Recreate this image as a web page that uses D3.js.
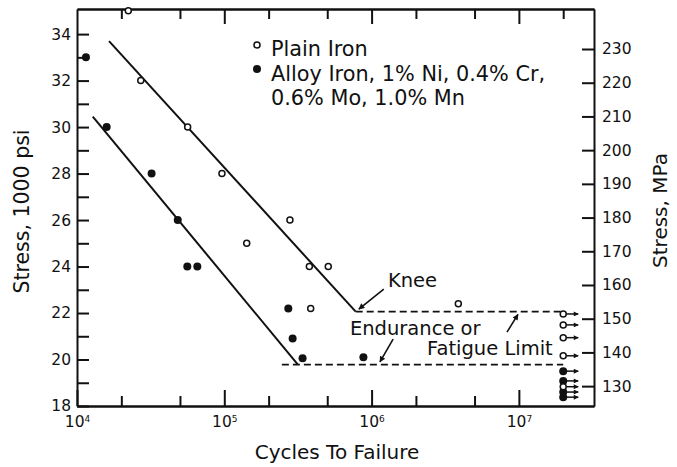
<!DOCTYPE html>
<html>
<head>
<meta charset="utf-8">
<script src="https://cdn.jsdelivr.net/npm/d3@7"></script>
<style>
  body { margin: 0; background: #fff; }
  svg { display: block; font-family: "DejaVu Sans", sans-serif; }
  .axis path, .axis line { stroke: #111; stroke-width: 2; }
  .axis text { font-size: 15.5px; fill: #111; font-family: "DejaVu Sans", sans-serif; }
</style>
</head>
<body>
<svg id="chart" width="677" height="467"></svg>
<script>
// Plain iron test points (open circles)
const plainCycles = [2.23e4, 2.71e4, 5.64e4, 9.64e4, 1.42e5, 2.79e5, 3.78e5, 3.86e5, 5.08e5, 3.88e6];
const plainStress = [35, 32, 30, 28, 25, 26, 24, 22.2, 24, 22.4];
// Alloy iron test points (filled circles)
const alloyCycles = [1.15e4, 1.59e4, 3.21e4, 4.83e4, 5.61e4, 6.56e4, 2.72e5, 2.91e5, 3.40e5, 8.8e5];
const alloyStress = [33, 30, 28, 26, 24, 24, 22.2, 20.9, 20.05, 20.1];
// run-outs (no failure) at 2e7 cycles
const runoutCycles = 2e7;
const plainRunout = [21.96, 21.49, 20.94, 20.16, 18.83];
const alloyRunout = [19.5, 19.08, 18.6, 18.38];
// fitted S-N lines: [cycles, stress]
const plainFit = [[1.65e4, 33.7], [7.8e5, 22.06]];
const plainLimit = [[7.8e5, 22.06], [2e7, 22.06]];
const alloyFit = [[1.28e4, 30.45], [3.16e5, 19.78]];
const alloyLimit = [[2.46e5, 19.78], [2e7, 19.78]];
// axis ticks
const psiTicks = d3.range(18, 35);
const mpaTicks = d3.range(130, 231, 10);
const decadeTicks = [1e4, 1e5, 1e6, 1e7];
const minorBottom = [2e4, 5e4, 2e5, 5e5, 2e6, 5e6];
const minorTop = [2e4, 5e4, 2e5, 5e5, 2e6, 5e6, 2e7];
const legendLines = ["Plain Iron", "Alloy Iron, 1% Ni, 0.4% Cr,", "0.6% Mo, 1.0% Mn"];
// annotations: text anchor + arrow [from, to] in data units
const notes = [
  {text: "Knee", at: [1.29e6, 23.1]},
  {text: "Endurance or", at: [7.13e5, 21.05]},
  {text: "Fatigue Limit", at: [2.38e6, 20.19]}
];
const arrows = [
  [[1.21e6, 23.03], [8.2e5, 22.17]],
  [[1.40e6, 20.88], [1.14e6, 19.9]],
  [[8.3e6, 21.18], [9.86e6, 21.94]]
];

const PSI_TO_MPA = 6.894757;
const svg = d3.select("#chart");
const pLeft = 77, pRight = 594, pTop = 9, pBottom = 406;

const x = d3.scaleLog().domain([1e4, Math.pow(10, 7.51)]).range([pLeft, pRight]);
const y = d3.scaleLinear().domain([18, 35.08]).range([pBottom, pTop]);
const yMpa = d3.scaleLinear().domain([18 * PSI_TO_MPA, 35.08 * PSI_TO_MPA]).range([pBottom, pTop]);

// marker for arrowheads
const defs = svg.append("defs");
defs.append("marker")
  .attr("id", "head")
  .attr("viewBox", "0 0 10 10")
  .attr("refX", 9).attr("refY", 5)
  .attr("markerWidth", 10).attr("markerHeight", 6)
  .attr("markerUnits", "userSpaceOnUse")
  .attr("orient", "auto")
  .append("path").attr("d", "M0,0 L10,5 L0,10 Z").attr("fill", "#111");
defs.append("marker")
  .attr("id", "small")
  .attr("viewBox", "0 0 10 10")
  .attr("refX", 9).attr("refY", 5)
  .attr("markerWidth", 7).attr("markerHeight", 5)
  .attr("markerUnits", "userSpaceOnUse")
  .attr("orient", "auto")
  .append("path").attr("d", "M0,0 L10,5 L0,10 Z").attr("fill", "#111");

// left axis (1000 psi)
svg.append("g").attr("class", "axis")
  .attr("transform", `translate(${pLeft},0)`)
  .call(d3.axisLeft(y).tickValues(psiTicks).tickSize(-12).tickSizeOuter(0).tickPadding(6)
    .tickFormat(d => d % 2 === 0 ? d : ""));

// right axis (MPa)
svg.append("g").attr("class", "axis")
  .attr("transform", `translate(${pRight},0)`)
  .call(d3.axisRight(yMpa).tickValues(mpaTicks).tickSize(-12).tickSizeOuter(0).tickPadding(8));

// bottom axis
const bAxis = svg.append("g").attr("class", "axis")
  .attr("transform", `translate(0,${pBottom})`)
  .call(d3.axisBottom(x).tickValues(decadeTicks).tickSize(-16).tickSizeOuter(0).tickPadding(10)
    .tickFormat(d => "10"));
bAxis.selectAll(".tick text").each(function(d) {
  d3.select(this).append("tspan")
    .attr("font-size", "9px").attr("dy", "-0.6em")
    .text(Math.round(Math.log10(d)));
});
svg.append("g").attr("class", "axis")
  .attr("transform", `translate(0,${pBottom})`)
  .call(d3.axisBottom(x).tickValues(minorBottom).tickSize(-10).tickSizeOuter(0).tickFormat(""));

// top axis
svg.append("g").attr("class", "axis")
  .attr("transform", `translate(0,${pTop})`)
  .call(d3.axisTop(x).tickValues(decadeTicks.slice(1)).tickSize(-15).tickSizeOuter(0).tickFormat(""));
svg.append("g").attr("class", "axis")
  .attr("transform", `translate(0,${pTop})`)
  .call(d3.axisTop(x).tickValues(minorTop).tickSize(-10).tickSizeOuter(0).tickFormat(""));

// axis titles
svg.append("text")
  .attr("transform", `translate(22,${(pTop + pBottom) / 2 + 4}) rotate(-90)`)
  .attr("text-anchor", "middle").attr("dominant-baseline", "central")
  .attr("font-size", 20.5).attr("fill", "#111")
  .text("Stress, 1000 psi");
svg.append("text")
  .attr("transform", `translate(660,${(pTop + pBottom) / 2 + 3}) rotate(-90)`)
  .attr("text-anchor", "middle").attr("dominant-baseline", "central")
  .attr("font-size", 20).attr("fill", "#111")
  .text("Stress, MPa");
svg.append("text")
  .attr("x", 337).attr("y", 459)
  .attr("text-anchor", "middle")
  .attr("font-size", 20).attr("fill", "#111")
  .text("Cycles To Failure");

// fitted lines
const line = d3.line().x(d => x(d[0])).y(d => y(d[1]));
[plainFit, alloyFit].forEach(seg => {
  svg.append("path").attr("d", line(seg))
    .attr("fill", "none").attr("stroke", "#111").attr("stroke-width", 2);
});
[plainLimit, alloyLimit].forEach(seg => {
  svg.append("path").attr("d", line(seg))
    .attr("fill", "none").attr("stroke", "#111").attr("stroke-width", 1.8)
    .attr("stroke-dasharray", "7,4");
});

// run-out arrows
const runouts = plainRunout.concat(alloyRunout);
svg.append("g").selectAll("line").data(runouts).join("line")
  .attr("x1", x(runoutCycles) + 3).attr("x2", x(runoutCycles) + 15)
  .attr("y1", d => y(d)).attr("y2", d => y(d))
  .attr("stroke", "#111").attr("stroke-width", 1.5)
  .attr("marker-end", "url(#small)");

// points
const plainPts = plainCycles.map((c, i) => [c, plainStress[i]])
  .concat(plainRunout.map(s => [runoutCycles, s]));
const alloyPts = alloyCycles.map((c, i) => [c, alloyStress[i]])
  .concat(alloyRunout.map(s => [runoutCycles, s]));
svg.append("g").selectAll("circle").data(alloyPts).join("circle")
  .attr("cx", d => x(d[0])).attr("cy", d => y(d[1])).attr("r", 4)
  .attr("fill", "#111");
svg.append("g").selectAll("circle").data(plainPts).join("circle")
  .attr("cx", d => x(d[0])).attr("cy", d => y(d[1])).attr("r", 3)
  .attr("fill", "#fff").attr("stroke", "#111").attr("stroke-width", 1.5);

// annotations
svg.append("g").selectAll("text").data(notes).join("text")
  .attr("x", d => x(d.at[0])).attr("y", d => y(d.at[1]))
  .attr("font-size", 19.5).attr("fill", "#111")
  .text(d => d.text);
svg.append("g").selectAll("line").data(arrows).join("line")
  .attr("x1", d => x(d[0][0])).attr("y1", d => y(d[0][1]))
  .attr("x2", d => x(d[1][0])).attr("y2", d => y(d[1][1]))
  .attr("stroke", "#111").attr("stroke-width", 1.6)
  .attr("marker-end", "url(#head)");

// legend
const legend = svg.append("g");
legend.append("circle").attr("cx", 257).attr("cy", 45).attr("r", 3)
  .attr("fill", "#fff").attr("stroke", "#111").attr("stroke-width", 1.5);
legend.append("circle").attr("cx", 257).attr("cy", 69).attr("r", 4).attr("fill", "#111");
legend.selectAll("text").data(legendLines).join("text")
  .attr("x", 271).attr("y", (d, i) => 56 + i * 24.5)
  .attr("font-size", 20.8).attr("fill", "#111")
  .text(d => d);
</script>
</body>
</html>
